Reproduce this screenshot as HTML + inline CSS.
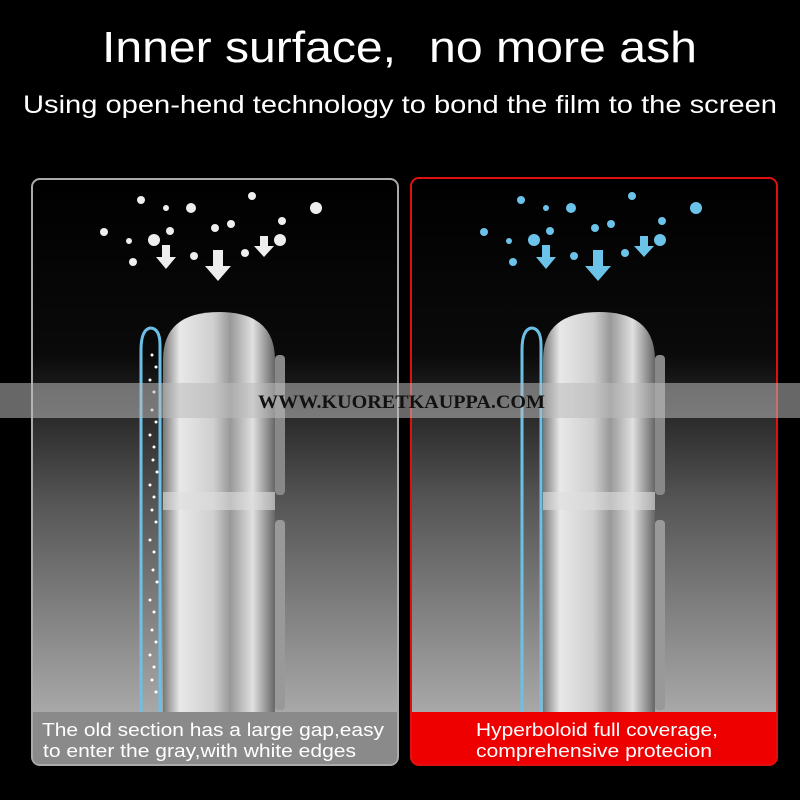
<!DOCTYPE html>
<html><head><meta charset="utf-8"><style>
html,body{margin:0;padding:0;background:#000;}
body{width:800px;height:800px;overflow:hidden;position:relative;font-family:"Liberation Sans",sans-serif;}
</style></head><body>
<svg width="800" height="800" xmlns="http://www.w3.org/2000/svg" style="position:absolute;left:0;top:0">
<defs>
<linearGradient id="bg" x1="0" y1="0" x2="0" y2="1">
<stop offset="0" stop-color="#000"/><stop offset="0.3" stop-color="#0a0a0a"/><stop offset="0.55" stop-color="#555"/><stop offset="1" stop-color="#bdbdbd"/>
</linearGradient>
<linearGradient id="ph" x1="0" y1="0" x2="1" y2="0">
<stop offset="0" stop-color="#777"/><stop offset="0.15" stop-color="#e8e8e8"/><stop offset="0.45" stop-color="#cfcfcf"/><stop offset="0.6" stop-color="#999"/><stop offset="0.8" stop-color="#e0e0e0"/><stop offset="1" stop-color="#666"/>
</linearGradient>
<g id="phone">
<path d="M163,712 V360 Q163,312 219,312 Q275,312 275,360 V712 Z" fill="url(#ph)"/>
<rect x="275" y="355" width="10" height="140" rx="4" fill="#888"/>
<rect x="275" y="520" width="10" height="190" rx="4" fill="#999"/>
<rect x="163" y="492" width="112" height="18" fill="#ddd" opacity="0.6"/>
</g>
<g id="rain">
<circle cx="141" cy="200" r="4"/><circle cx="166" cy="208" r="3"/><circle cx="191" cy="208" r="5"/><circle cx="252" cy="196" r="4"/><circle cx="316" cy="208" r="6"/>
<circle cx="104" cy="232" r="4"/><circle cx="129" cy="241" r="3"/><circle cx="154" cy="240" r="6"/><circle cx="170" cy="231" r="4"/><circle cx="215" cy="228" r="4"/><circle cx="231" cy="224" r="4"/><circle cx="282" cy="221" r="4"/><circle cx="280" cy="240" r="6"/><circle cx="133" cy="262" r="4"/><circle cx="194" cy="256" r="4"/><circle cx="245" cy="253" r="4"/>
<path d="M162,245 h8 v12 h6 l-10,12 l-10,-12 h6 z"/>
<path d="M213,250 h10 v16 h8 l-13,15 l-13,-15 h8 z"/>
<path d="M260,236 h8 v10 h6 l-10,11 l-10,-11 h6 z"/>
</g>
</defs>
<rect x="32" y="179" width="366" height="586" rx="8" fill="url(#bg)" stroke="#aaa" stroke-width="2"/>
<use href="#phone"/>
<path d="M160,712 V345 Q160,328 150,328 Q141,330 141,350 V712" fill="none" stroke="#6cc0e6" stroke-width="3"/>
<g fill="#fff"><g id="dots"><circle cx="152" cy="355" r="1.5"/><circle cx="150" cy="380" r="1.5"/><circle cx="152" cy="410" r="1.5"/><circle cx="150" cy="435" r="1.5"/><circle cx="153" cy="460" r="1.5"/><circle cx="150" cy="485" r="1.5"/><circle cx="152" cy="510" r="1.5"/><circle cx="150" cy="540" r="1.5"/><circle cx="153" cy="570" r="1.5"/><circle cx="150" cy="600" r="1.5"/><circle cx="152" cy="630" r="1.5"/><circle cx="150" cy="655" r="1.5"/><circle cx="152" cy="680" r="1.5"/></g>
<use href="#dots" transform="translate(4,12)"/></g>
<g fill="#eee"><use href="#rain"/></g>
<path d="M33,712 H397 V757 Q397,764 390,764 H40 Q33,764 33,757 Z" fill="#8a8a8a"/>
<text x="42" y="736" fill="#fff" font-size="18" textLength="342" lengthAdjust="spacingAndGlyphs">The old section has a large gap,easy</text>
<text x="43" y="757" fill="#fff" font-size="18" textLength="313" lengthAdjust="spacingAndGlyphs">to enter the gray,with white edges</text>
<rect x="411" y="178" width="366" height="587" rx="8" fill="url(#bg)" stroke="#e01010" stroke-width="2"/>
<use href="#phone" transform="translate(380,0)"/>
<path d="M541,712 V345 Q541,328 531,328 Q522,330 522,350 V712" fill="none" stroke="#6cc0e6" stroke-width="3"/>
<g fill="#6cc3ea"><use href="#rain" transform="translate(380,0)"/></g>
<path d="M412,712 H776 V757 Q776,764 769,764 H419 Q412,764 412,757 Z" fill="#ee0000"/>
<text x="476" y="736" fill="#fff" font-size="18" textLength="242" lengthAdjust="spacingAndGlyphs">Hyperboloid full coverage,</text>
<text x="476" y="757" fill="#fff" font-size="18" textLength="236" lengthAdjust="spacingAndGlyphs">comprehensive protecion</text>
<rect x="0" y="383" width="800" height="35" fill="#bbb" opacity="0.55"/>
<text x="258" y="408" fill="#111" font-size="19" font-weight="bold" font-family="Liberation Serif,serif" textLength="287" lengthAdjust="spacingAndGlyphs">WWW.KUORETKAUPPA.COM</text>
<text x="102" y="62" fill="#fff" font-size="44" textLength="294" lengthAdjust="spacingAndGlyphs">Inner surface,</text>
<text x="429" y="62" fill="#fff" font-size="44" textLength="268" lengthAdjust="spacingAndGlyphs">no more ash</text>
<text x="23" y="113" fill="#fff" font-size="25" textLength="754" lengthAdjust="spacingAndGlyphs">Using open-hend technology to bond the film to the screen</text>
</svg>
</body></html>
